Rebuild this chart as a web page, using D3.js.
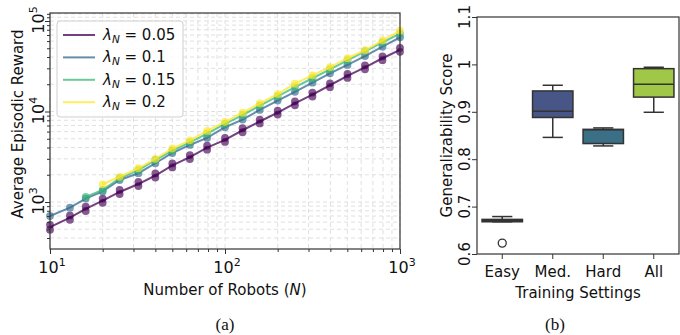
<!DOCTYPE html>
<html>
<head>
<meta charset="utf-8">
<script src="https://cdn.jsdelivr.net/npm/d3@7"></script>
<style>
  html, body { margin: 0; padding: 0; background: #fff; }
  svg { display: block; font-family: "DejaVu Sans", sans-serif; }
</style>
</head>
<body>
<svg id="chart" width="680" height="335"></svg>
<script>
// ---- data: panel (a) ----
const robots = [10, 13, 16, 20, 25, 32, 40, 50, 63, 79, 100, 126, 158, 200, 251, 316, 398, 501, 631, 794, 1000];
const purpleLo = [495, 635, 795, 980, 1225, 1500, 1860, 2410, 2980, 3790, 4610, 5900, 7380, 9250, 11700, 14650, 18550, 23500, 29300, 36900, 45700];
const purpleHi = [560, 710, 890, 1090, 1360, 1665, 2070, 2670, 3300, 4190, 5100, 6530, 8150, 10200, 12950, 16200, 20500, 26000, 32400, 40700, 50500];
const rewardL010 = [700, 865, 1090, 1310, 1750, 2080, 2680, 3480, 4270, 5100, 6700, 8150, 10400, 13200, 16500, 20800, 26400, 32700, 41000, 52000, 66000];
const rewardL015 = [null, null, 1140, 1360, 1830, 2250, 2910, 3700, 4550, 5700, 7300, 9100, 11600, 14700, 18600, 23300, 29200, 36800, 46300, 58000, 72500];
const rewardL020 = [null, null, null, 1570, 1900, 2360, 3000, 3900, 4800, 6100, 7700, 9700, 12300, 15600, 20300, 25100, 31000, 38800, 47500, 61000, 78000];
const lambdaLabels = ["0.05", "0.1", "0.15", "0.2"];
const lineColors = ["#440154", "#31688e", "#35b779", "#fde725"];

// ---- data: panel (b) ----
const settings = ["Easy", "Med.", "Hard", "All"];
const whiskerLo = [0.668, 0.846, 0.828, 0.899];
const q1 = [0.668, 0.888, 0.833, 0.931];
const median = [0.671, 0.901, 0.862, 0.958];
const q3 = [0.673, 0.944, 0.863, 0.991];
const whiskerHi = [0.679, 0.956, 0.866, 0.994];
const outliers = [[0.623], [], [], []];
const boxColors = ["#4a3a6e", "#475687", "#3a6f86", "#a0c846"];
const scoreTicks = [0.6, 0.7, 0.8, 0.9, 1.0, 1.1];

const svg = d3.select('#chart');
const ink = '#333';
const FS = 15;

// ================= panel (a) =================
const A = { left: 50, right: 400, top: 13, bottom: 249 };

const x = d3.scaleLog().domain([10, 1000]).range([A.left, A.right]);
const y = d3.scaleLog().domain([302.5, 122600]).range([A.bottom, A.top]);

const xMajor = [10, 100, 1000];
const xMinor = [];
[10, 100].forEach(d => { for (let k = 2; k <= 9; k++) xMinor.push(d * k); });
const yMajor = [1000, 10000, 100000];
const yMinor = [];
[100, 1000, 10000].forEach(d => { for (let k = 2; k <= 9; k++) yMinor.push(d * k); });
yMinor.push(110000, 120000);
const yMinorIn = yMinor.filter(v => v > y.domain()[0] && v < y.domain()[1]);

const gA = svg.append('g');

// Gridlines
gA.append('g')
  .selectAll('line')
  .data(xMajor.concat(xMinor))
  .enter().append('line')
  .attr('x1', d => x(d)).attr('x2', d => x(d))
  .attr('y1', A.top).attr('y2', A.bottom)
  .attr('stroke', '#dcdcdc')
  .attr('stroke-width', 0.9)
  .attr('stroke-dasharray', '4,3');

gA.append('g')
  .selectAll('line')
  .data(yMajor.concat(yMinorIn))
  .enter().append('line')
  .attr('x1', A.left).attr('x2', A.right)
  .attr('y1', d => y(d)).attr('y2', d => y(d))
  .attr('stroke', '#dcdcdc')
  .attr('stroke-width', 0.9)
  .attr('stroke-dasharray', '4,3');

// Series
const series = [
  { vals: robots.map((n, i) => Math.sqrt(purpleLo[i] * purpleHi[i])), dots: purpleLo.concat(purpleHi), dotN: robots.concat(robots) },
  { vals: rewardL010, dots: rewardL010, dotN: robots },
  { vals: rewardL015, dots: rewardL015, dotN: robots },
  { vals: rewardL020, dots: rewardL020, dotN: robots },
];

const line = d3.line()
  .defined(d => d[1] != null)
  .x(d => x(d[0]))
  .y(d => y(d[1]));

series.forEach((s, i) => {
  const pts = robots.map((n, j) => [n, s.vals[j]]);
  gA.append('path')
    .datum(pts)
    .attr('fill', 'none')
    .attr('stroke', lineColors[i])
    .attr('stroke-opacity', 0.75)
    .attr('stroke-width', 2)
    .attr('d', line);

  gA.append('g')
    .selectAll('circle')
    .data(s.dots.map((v, j) => [s.dotN[j], v]).filter(d => d[1] != null))
    .enter().append('circle')
    .attr('cx', d => x(d[0]))
    .attr('cy', d => y(d[1]))
    .attr('r', 3.9)
    .attr('fill', lineColors[i])
    .attr('fill-opacity', 0.65);
});

// Frame
gA.append('rect')
  .attr('x', A.left).attr('y', A.top)
  .attr('width', A.right - A.left).attr('height', A.bottom - A.top)
  .attr('fill', 'none').attr('stroke', ink).attr('stroke-width', 1.2);

// Axes
const xAxisMaj = gA.append('g')
  .attr('transform', `translate(0,${A.bottom})`)
  .call(d3.axisBottom(x).tickValues(xMajor).tickSize(5).tickFormat(''));
const xAxisMin = gA.append('g')
  .attr('transform', `translate(0,${A.bottom})`)
  .call(d3.axisBottom(x).tickValues(xMinor).tickSize(3).tickFormat(''));
const yAxisMaj = gA.append('g')
  .attr('transform', `translate(${A.left},0)`)
  .call(d3.axisLeft(y).tickValues(yMajor).tickSize(5).tickFormat(''));
const yAxisMin = gA.append('g')
  .attr('transform', `translate(${A.left},0)`)
  .call(d3.axisLeft(y).tickValues(yMinorIn).tickSize(3).tickFormat(''));

[xAxisMaj, xAxisMin, yAxisMaj, yAxisMin].forEach(ax => {
  ax.select('.domain').remove();
  ax.selectAll('line').attr('stroke', ink).attr('stroke-width', 1);
});

// x tick labels 10^k
xMajor.forEach(v => {
  const t = gA.append('text')
    .attr('x', x(v) + 2).attr('y', 273)
    .attr('text-anchor', 'middle')
    .attr('font-size', 16).attr('fill', '#111');
  t.append('tspan').text('10');
  t.append('tspan').attr('dy', -7).attr('font-size', 11).text(Math.round(Math.log10(v)));
});

// y tick labels, rotated
yMajor.forEach(v => {
  const t = gA.append('text')
    .attr('transform', `translate(44,${y(v) - 1}) rotate(-90)`)
    .attr('text-anchor', 'middle')
    .attr('font-size', 16).attr('fill', '#111');
  t.append('tspan').text('10');
  t.append('tspan').attr('dy', -7).attr('font-size', 11).text(Math.round(Math.log10(v)));
});

// axis labels
gA.append('text')
  .attr('x', 225).attr('y', 295)
  .attr('text-anchor', 'middle').attr('font-size', FS).attr('fill', '#111')
  .call(t => {
    t.append('tspan').text('Number of Robots (');
    t.append('tspan').attr('font-style', 'italic').text('N');
    t.append('tspan').text(')');
  });

gA.append('text')
  .attr('transform', 'translate(23,124) rotate(-90)')
  .attr('text-anchor', 'middle').attr('font-size', FS).attr('fill', '#111')
  .text('Average Episodic Reward');

// Legend
const leg = gA.append('g');
leg.append('rect')
  .attr('x', 57).attr('y', 21).attr('width', 126).attr('height', 96)
  .attr('rx', 3)
  .attr('fill', '#fff').attr('fill-opacity', 0.85)
  .attr('stroke', '#cfcfcf').attr('stroke-width', 1);

lambdaLabels.forEach((lab, i) => {
  const cy = 35 + i * 22.4;
  leg.append('line')
    .attr('x1', 63).attr('x2', 95).attr('y1', cy).attr('y2', cy)
    .attr('stroke', lineColors[i]).attr('stroke-opacity', 0.75).attr('stroke-width', 2);
  const t = leg.append('text')
    .attr('x', 103).attr('y', cy + 5)
    .attr('font-size', FS).attr('fill', '#111');
  t.append('tspan').attr('font-style', 'italic').text('λ');
  t.append('tspan').attr('font-style', 'italic').attr('font-size', 10.5).attr('dy', 3).text('N');
  t.append('tspan').attr('dy', -3).text(' = ' + lab);
});

svg.append('text')
  .attr('x', 225).attr('y', 330)
  .attr('text-anchor', 'middle')
  .attr('font-family', '"Liberation Serif", serif').attr('font-size', 17).attr('fill', '#111')
  .text('(a)');

// ================= panel (b) =================
const B = { left: 477, right: 679, top: 17, bottom: 254 };

const xb = d3.scaleBand().domain(settings).range([B.left, B.right])
  .paddingInner(0.2).paddingOuter(0.1);
const yb = d3.scaleLinear().domain([0.6, 1.1]).range([B.bottom, B.top]);

const gB = svg.append('g');
const bw = xb.bandwidth();

settings.forEach((s, i) => {
  const cx = xb(s) + bw / 2;
  const g = gB.append('g');
  // whiskers
  g.append('line')
    .attr('x1', cx).attr('x2', cx).attr('y1', yb(whiskerHi[i])).attr('y2', yb(q3[i]))
    .attr('stroke', ink).attr('stroke-width', 1.5);
  g.append('line')
    .attr('x1', cx).attr('x2', cx).attr('y1', yb(q1[i])).attr('y2', yb(whiskerLo[i]))
    .attr('stroke', ink).attr('stroke-width', 1.5);
  [whiskerHi[i], whiskerLo[i]].forEach(v => {
    g.append('line')
      .attr('x1', cx - bw / 4).attr('x2', cx + bw / 4)
      .attr('y1', yb(v)).attr('y2', yb(v))
      .attr('stroke', ink).attr('stroke-width', 1.5);
  });
  // box
  g.append('rect')
    .attr('x', xb(s)).attr('y', yb(q3[i]))
    .attr('width', bw).attr('height', Math.max(yb(q1[i]) - yb(q3[i]), 0.5))
    .attr('fill', boxColors[i])
    .attr('stroke', ink).attr('stroke-width', 1.5);
  // median
  g.append('line')
    .attr('x1', xb(s)).attr('x2', xb(s) + bw)
    .attr('y1', yb(median[i])).attr('y2', yb(median[i]))
    .attr('stroke', ink).attr('stroke-width', 1.5);
  // outliers
  g.selectAll('circle')
    .data(outliers[i])
    .enter().append('circle')
    .attr('cx', cx).attr('cy', d => yb(d))
    .attr('r', 4)
    .attr('fill', 'none').attr('stroke', ink).attr('stroke-width', 1.3);
});

gB.append('rect')
  .attr('x', B.left).attr('y', B.top)
  .attr('width', B.right - B.left).attr('height', B.bottom - B.top)
  .attr('fill', 'none').attr('stroke', ink).attr('stroke-width', 1.2);

const xbAxis = gB.append('g')
  .attr('transform', `translate(0,${B.bottom})`)
  .call(d3.axisBottom(xb).tickSize(5).tickPadding(4));
const ybAxis = gB.append('g')
  .attr('transform', `translate(${B.left},0)`)
  .call(d3.axisLeft(yb).tickValues(scoreTicks).tickSize(5).tickFormat(''));
[xbAxis, ybAxis].forEach(ax => {
  ax.select('.domain').remove();
  ax.selectAll('line').attr('stroke', ink).attr('stroke-width', 1);
});
xbAxis.selectAll('text')
  .attr('font-family', '"DejaVu Sans", sans-serif')
  .attr('font-size', FS).attr('fill', '#111')
  .attr('dy', '0.9em');

scoreTicks.forEach(v => {
  gB.append('text')
    .attr('transform', `translate(470,${yb(v)}) rotate(-90)`)
    .attr('text-anchor', 'middle')
    .attr('font-size', FS).attr('fill', '#111')
    .text(d3.format('~g')(v));
});

gB.append('text')
  .attr('x', (B.left + B.right) / 2).attr('y', 298)
  .attr('text-anchor', 'middle').attr('font-size', FS).attr('fill', '#111')
  .text('Training Settings');

gB.append('text')
  .attr('transform', `translate(452,${(B.top + B.bottom) / 2}) rotate(-90)`)
  .attr('text-anchor', 'middle').attr('font-size', FS).attr('fill', '#111')
  .text('Generalizability Score');

svg.append('text')
  .attr('x', 555).attr('y', 330)
  .attr('text-anchor', 'middle')
  .attr('font-family', '"Liberation Serif", serif').attr('font-size', 17).attr('fill', '#111')
  .text('(b)');
</script>
</body>
</html>
